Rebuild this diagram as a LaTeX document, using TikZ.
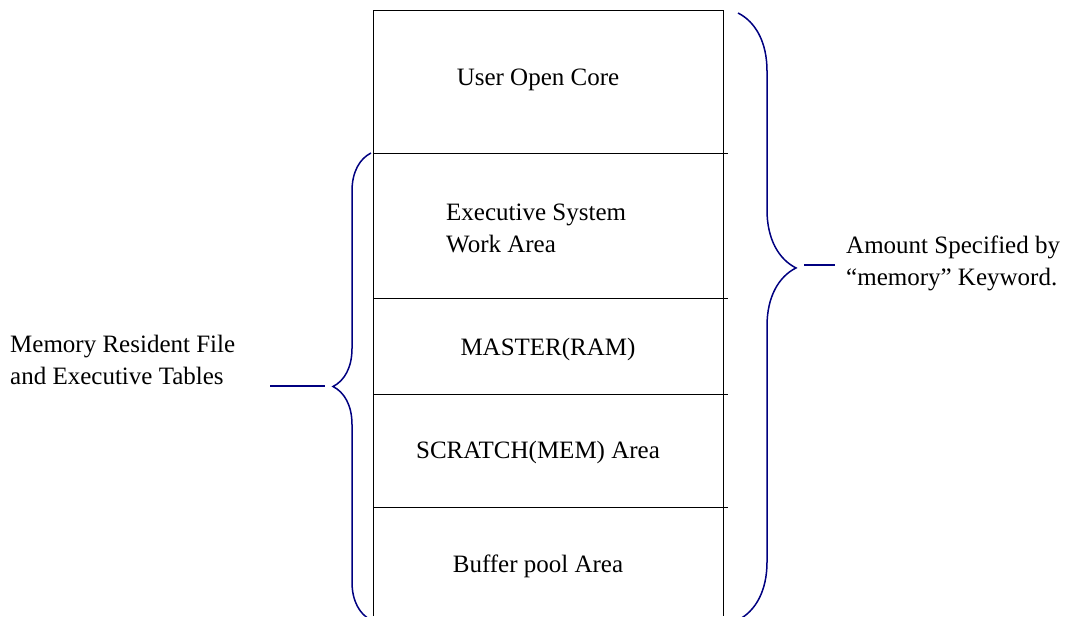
\documentclass[tikz,border=0pt]{standalone}
\usepackage{fontspec}
\setmainfont{Liberation Serif}
\usetikzlibrary{decorations.pathreplacing}
\definecolor{navy}{HTML}{000080}
\begin{document}
\begin{tikzpicture}
  [x=1pt,y=-1pt,
   txt/.style={font=\fontsize{25}{32}\selectfont,inner sep=0pt},
   curly/.style 2 args={draw=navy,line width=1.5pt,decorate,
     decoration={brace,amplitude=#1,aspect=#2}},
   lead/.style={draw=navy,line width=1.5pt}]
  \useasboundingbox (0,0) rectangle (1075,616);

  % memory stack
  \draw [line width=1pt] (373,616) -- (373,10) -- (723,10) -- (723,616);
  \foreach \y in {153,298,394,507}
    \draw [line width=1pt] (373,\y) -- (728,\y);

  \node (core)    at (538,80)  [txt] {User Open Core};
  \node (exec)    at (446,228) [txt,anchor=west,align=left] {Executive System\\Work Area};
  \node (master)  at (548,349) [txt] {MASTER(RAM)};
  \node (scratch) at (538,452) [txt] {SCRATCH(MEM) Area};
  \node (buffer)  at (538,566) [txt] {Buffer pool Area};

  % braces
  \draw [curly={38pt}{0.5}]  (371,620) -- (371,153);
  \draw [curly={58pt}{0.42}] (738,13) -- (738,620);

  \node (resident) at (10,360) [txt,anchor=west,align=left] {Memory Resident File\\and Executive Tables};
  \node (amount)   at (846,263) [txt,anchor=west,align=left] {Amount Specified by\\“memory” Keyword.};

  \coordinate (lfree) at (270,386);
  \coordinate (ltip)  at (325,386);
  \coordinate (rtip)  at (804,265);
  \coordinate (rfree) at (835,265);
  \draw [lead] (lfree) to (ltip);
  \draw [lead] (rtip) to (rfree);
\end{tikzpicture}
\end{document}
